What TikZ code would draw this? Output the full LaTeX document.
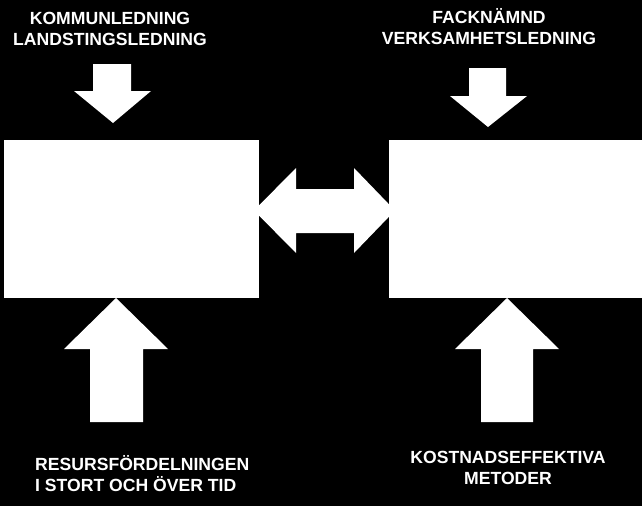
\documentclass[tikz,border=0pt]{standalone}
\usepackage{fontspec}
\setmainfont{Liberation Sans}
\begin{document}
\begin{tikzpicture}[x=1pt,y=-1pt,
  shp/.style={fill=white,draw=none},
  lbl/.style={text=white,font=\fontsize{17.6}{20.5}\bfseries\selectfont,inner sep=0pt,anchor=base}]
\useasboundingbox[fill=black] (0,0) rectangle (642,506);
% double arrow (behind boxes)
\path[shp] (254,210.5) -- (296,168) -- (296,189) -- (354,189) -- (354,168) -- (395,210.5)
  -- (354,253) -- (354,233) -- (296,233) -- (296,253) -- cycle;
% boxes
\path[shp] (4,140) rectangle (259,298) node[coordinate] (boxL) {};
\path[shp] (389,140) rectangle (642,298) node[coordinate] (boxR) {};
% down arrows
\path[shp] (93,64) -- (131,64) -- (131,91) -- (151,91) -- (113,123) -- (74,91) -- (93,91) -- cycle;
\path[shp] (469,68) -- (506,68) -- (506,96) -- (527,96) -- (488,127) -- (450,96) -- (469,96) -- cycle;
% up arrows
\path[shp] (116,298) -- (168,349) -- (143,349) -- (143,422) -- (90,422) -- (90,349) -- (64,349) -- cycle;
\path[shp] (507,298) -- (559,349) -- (533,349) -- (533,422) -- (481,422) -- (481,349) -- (455,349) -- cycle;
% labels
\node[lbl,align=center] (tl) at (110,45) {KOMMUNLEDNING\\LANDSTINGSLEDNING};
\node[lbl,align=center] (tr) at (489,44) {FACKNÄMND\\VERKSAMHETSLEDNING};
\node[lbl,align=left,anchor=base west] (bl) at (35,491) {RESURSFÖRDELNINGEN\\I STORT OCH ÖVER TID};
\node[lbl,align=center] (br) at (508,484) {KOSTNADSEFFEKTIVA\\METODER};
\end{tikzpicture}
\end{document}
